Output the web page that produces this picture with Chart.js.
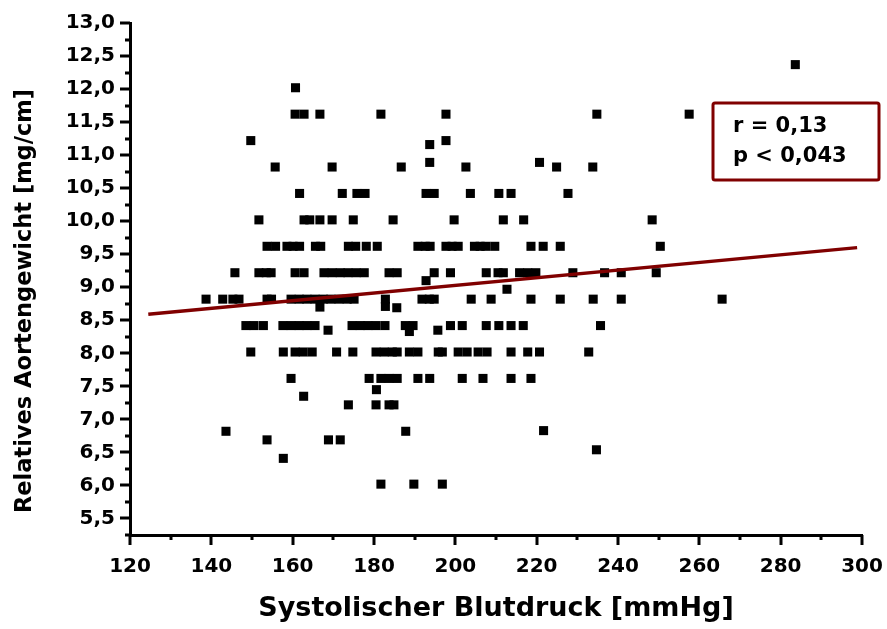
<!DOCTYPE html>
<html>
<head>
<meta charset="utf-8">
<script src="https://cdn.jsdelivr.net/npm/chart.js@4/dist/chart.umd.min.js"></script>
<style>
  html, body { margin: 0; padding: 0; background: #fff; }
  #wrap { width: 887px; height: 629px; }
</style>
</head>
<body>
<div id="wrap"><canvas id="aortaChart"></canvas></div>
<script>
(function () {
  'use strict';

  // axis ranges
  var xMin = 120, xMax = 300, xStep = 10;
  var yMin = 5.25, yMax = 13.0, yStep = 0.25;

  // relative aortic weight levels and the systolic pressures measured at each
  var weightLevels = [12.02, 11.62, 11.22, 10.82, 10.42, 10.02, 9.62, 9.22, 8.82, 8.42, 8.02, 7.62, 7.22];
  var sbpAtLevel = [
    [160.7],
    [160.6, 162.8, 166.7, 181.7, 197.7, 234.8, 257.5],
    [149.7, 197.7],
    [155.7, 169.7, 186.7, 202.6, 224.9, 233.8],
    [161.7, 172.2, 175.8, 177.8, 192.8, 194.8, 203.7, 210.7, 213.7, 227.7],
    [151.7, 162.8, 164.2, 166.7, 169.7, 174.9, 184.7, 199.7, 211.8, 216.8, 248.4],
    [153.7, 155.8, 158.6, 160.1, 161.7, 165.6, 166.9, 173.7, 175.5, 178.1, 180.8, 190.8, 192.6, 193.8,
     197.7, 199.2, 200.7, 204.7, 206.1, 207.5, 209.7, 218.6, 221.6, 225.8, 250.4],
    [145.8, 151.7, 153.5, 154.7, 160.6, 162.8, 167.7, 169.7, 171.7, 173.6, 175.6, 177.6, 183.7, 185.7,
     194.8, 198.8, 207.6, 210.5, 211.8, 215.8, 217.8, 219.8, 228.9, 236.7, 240.8, 249.4],
    [138.7, 142.8, 145.3, 146.8, 153.7, 154.8, 159.6, 161.6, 163.5, 165.5, 167.5, 169.4, 171.4, 173.4,
     175.1, 182.8, 191.8, 193.6, 194.8, 203.9, 208.8, 218.6, 225.8, 233.9, 240.8, 265.6],
    [148.5, 150.5, 152.8, 157.6, 159.6, 161.6, 163.5, 165.5, 174.6, 176.6, 178.5, 180.5, 182.7, 187.7,
     189.6, 198.8, 201.7, 207.6, 210.7, 213.7, 216.7, 235.7],
    [149.7, 157.7, 160.6, 162.6, 164.8, 170.8, 174.8, 180.5, 182.5, 184.5, 185.7, 188.7, 190.8, 195.8,
     196.8, 200.7, 202.9, 205.6, 207.8, 213.7, 217.8, 220.7, 232.8],
    [159.6, 178.8, 181.7, 183.7, 185.7, 190.8, 193.7, 201.7, 206.8, 213.7, 218.6],
    [173.7, 180.5, 183.7, 184.9]
  ];

  // single animals off the regular levels
  var otherSbp    = [283.6, 193.7, 193.7, 220.7, 192.8, 212.7, 166.7, 182.8, 185.6, 168.7, 188.7, 195.7,
                     180.6, 162.7, 143.6, 153.7, 157.7, 168.8, 171.7, 187.8, 221.7, 234.7, 181.7, 189.8, 196.8];
  var otherWeight = [12.37, 11.16, 10.89, 10.89, 9.10, 8.97, 8.70, 8.71, 8.69, 8.35, 8.33, 8.35,
                     7.45, 7.35, 6.82, 6.69, 6.41, 6.69, 6.69, 6.82, 6.83, 6.54, 6.02, 6.02, 6.02];

  // linear fit
  var fitSbp = [124.5, 298.8];
  var fitWeight = [8.59, 9.60];

  var statLines = ['r = 0,13', 'p < 0,043'];

  var points = [];
  weightLevels.forEach(function (w, i) {
    sbpAtLevel[i].forEach(function (s) { points.push({ x: s, y: w }); });
  });
  otherSbp.forEach(function (s, i) { points.push({ x: s, y: otherWeight[i] }); });

  var fit = fitSbp.map(function (s, i) { return { x: s, y: fitWeight[i] }; });

  var dark = '#000000';
  var fitRed = '#800000';
  var font = 'DejaVu Sans';

  function comma(v, d) { return v.toFixed(d).replace('.', ','); }

  // major/minor tick marks, y title and the r/p box
  var extras = {
    id: 'extras',
    afterDraw: function (chart) {
      var ctx = chart.ctx, a = chart.chartArea;
      var sx = chart.scales.x, sy = chart.scales.y;
      ctx.save();
      ctx.strokeStyle = dark;
      ctx.lineWidth = 3;
      ctx.beginPath();
      for (var v = xMin; v <= xMax + 1e-9; v += xStep) {
        var px = Math.round(sx.getPixelForValue(v));
        var len = (Math.round(v) % 20 === 0) ? 10 : 5;
        ctx.moveTo(px, a.bottom);
        ctx.lineTo(px, a.bottom + len);
      }
      for (var k = 0; yMin + k * yStep <= yMax + 1e-9; k++) {
        var val = yMin + k * yStep;
        var py = Math.round(sy.getPixelForValue(val));
        var major = Math.abs(val * 2 - Math.round(val * 2)) < 1e-6;
        ctx.moveTo(a.left, py);
        ctx.lineTo(a.left - (major ? 10 : 5), py);
      }
      ctx.stroke();

      // y title
      ctx.fillStyle = dark;
      ctx.font = 'bold 22.5px "' + font + '"';
      ctx.textAlign = 'center';
      ctx.textBaseline = 'middle';
      ctx.save();
      ctx.translate(25, (a.top + a.bottom) / 2 + 22);
      ctx.rotate(-Math.PI / 2);
      ctx.fillText('Relatives Aortengewicht [mg/cm]', 0, 0);
      ctx.restore();

      // statistics box
      var bx = a.right - 149, by = a.top + 80, bw = 166, bh = 77;
      ctx.strokeStyle = fitRed;
      ctx.lineWidth = 3;
      ctx.beginPath();
      ctx.roundRect(bx, by, bw, bh, 2);
      ctx.stroke();
      ctx.font = 'bold 21px "' + font + '"';
      ctx.textAlign = 'left';
      ctx.textBaseline = 'alphabetic';
      ctx.fillText(statLines[0], bx + 20, by + 29);
      ctx.fillText(statLines[1], bx + 20, by + 59);
      ctx.restore();
    }
  };

  var ctx = document.getElementById('aortaChart').getContext('2d');
  new Chart(ctx, {
    type: 'scatter',
    data: {
      datasets: [{
        type: 'line',
        data: fit,
        borderColor: fitRed,
        borderWidth: 3.5,
        pointRadius: 0,
        fill: false,
        order: 0
      }, {
        data: points,
        pointStyle: 'rect',
        pointRadius: 6.4,
        pointHoverRadius: 6.4,
        backgroundColor: dark,
        borderWidth: 0,
        order: 1
      }]
    },
    options: {
      responsive: true,
      maintainAspectRatio: false,
      animation: false,
      events: [],
      layout: { padding: { top: 23, right: 25, left: 0, bottom: 0 } },
      plugins: { legend: { display: false }, tooltip: { enabled: false } },
      scales: {
        x: {
          type: 'linear',
          min: xMin,
          max: xMax,
          afterFit: function (scale) { scale.height = 94; },
          border: { display: true, color: dark, width: 3 },
          grid: { display: true, drawOnChartArea: false, drawTicks: true, tickLength: 16, color: 'rgba(0,0,0,0)' },
          ticks: {
            stepSize: xStep,
            autoSkip: false,
            maxRotation: 0,
            padding: 4,
            color: dark,
            font: { family: font, size: 20, weight: 'bold' },
            callback: function (v) { return Math.round(v) % 20 === 0 ? String(v) : ''; }
          },
          title: {
            display: true,
            text: 'Systolischer Blutdruck [mmHg]',
            color: dark,
            font: { family: font, size: 27, weight: 'bold' },
            padding: { top: 8, bottom: 4 }
          }
        },
        y: {
          type: 'linear',
          min: yMin,
          max: yMax,
          afterFit: function (scale) { scale.width = 130; },
          border: { display: true, color: dark, width: 3 },
          grid: { display: true, drawOnChartArea: false, drawTicks: true, tickLength: 10, color: 'rgba(0,0,0,0)' },
          ticks: {
            stepSize: yStep,
            autoSkip: false,
            padding: 5,
            color: dark,
            font: { family: font, size: 20, weight: 'bold' },
            callback: function (v) {
              var major = Math.abs(v * 2 - Math.round(v * 2)) < 1e-6;
              return (major && v >= 5.5 - 1e-9) ? comma(v, 1) : '';
            }
          }
        }
      }
    },
    plugins: [extras]
  });
})();
</script>
</body>
</html>
